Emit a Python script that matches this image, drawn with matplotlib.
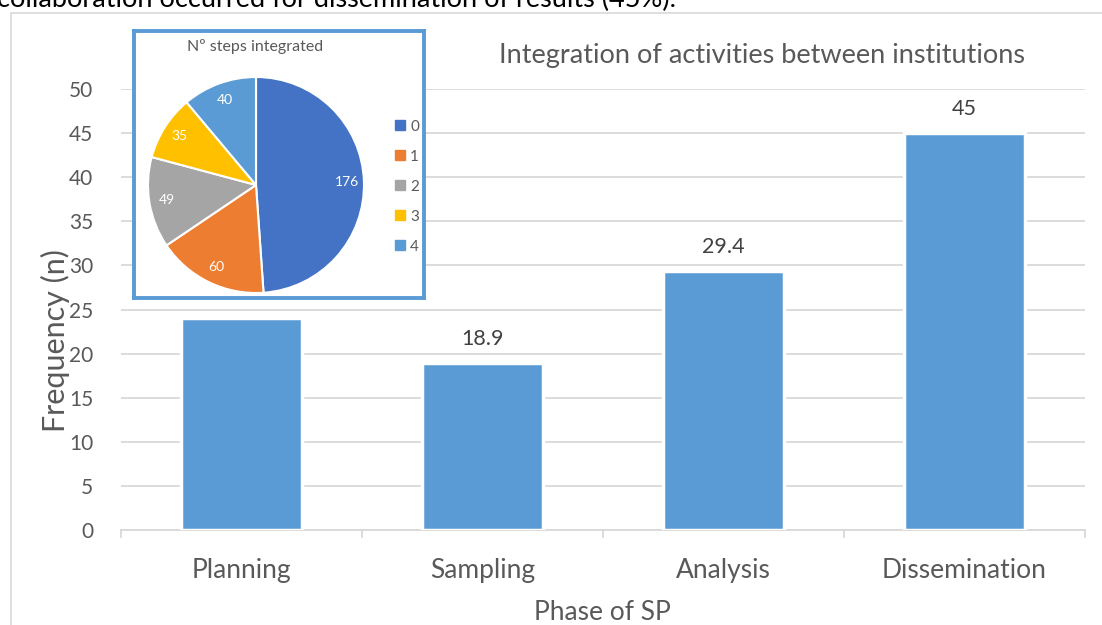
import matplotlib
matplotlib.use("Agg")
import matplotlib.pyplot as plt
from matplotlib.patches import Rectangle
from matplotlib.lines import Line2D

plt.rcParams['font.family'] = ['Lato', 'DejaVu Sans']

# ---- data ----
phases = ["Planning", "Sampling", "Analysis", "Dissemination"]
freq = [24.0, 18.9, 29.4, 45.0]
bar_labels = [None, "18.9", "29.4", "45"]   # Planning label hidden behind inset
yticks = [0, 5, 10, 15, 20, 25, 30, 35, 40, 45, 50]

steps = ["0", "1", "2", "3", "4"]
step_counts = [176, 60, 49, 35, 40]

title = "Integration of activities between institutions"
inset_title = "Nº steps integrated"
top_text = "collaboration occurred for dissemination of results (45%)."

W, H = 1102, 625
fig = plt.figure(figsize=(W / 100, H / 100), dpi=100)

def px(x0, y0, x1, y1):
    return [x0 / W, 1 - y1 / H, (x1 - x0) / W, (y1 - y0) / H]

grey_txt = "#595959"
grid_c = "#D9D9D9"
bar_c = "#5B9BD5"

# chart border (partially visible)
fig.add_artist(Rectangle((11 / W, -0.1), 2, 1 - 13 / H + 0.1, transform=fig.transFigure,
                         fill=False, edgecolor="#D9D9D9", linewidth=1.2))
fig.text(-0.003, 1 - 7 / H, top_text, fontsize=19.5, color="black", va="baseline", ha="left")

ax = fig.add_axes(px(121, 89, 1085, 530))
x = list(range(len(phases)))
bars = ax.bar(x, freq, width=0.5, color=bar_c, edgecolor="white", linewidth=2.5, zorder=3)
ax.set_xlim(-0.5, len(phases) - 0.5)
ax.set_ylim(0, 50)
ax.set_yticks(yticks)
ax.set_yticklabels([str(v) for v in yticks], fontsize=15, color=grey_txt)
ax.tick_params(axis="y", length=0, pad=20)
ax.set_xticks(x)
ax.set_xticklabels(phases, fontsize=19, color=grey_txt)
ax.tick_params(axis="x", length=0, pad=20)
for b in [i - 0.5 for i in range(len(phases) + 1)]:
    ax.plot([b, b], [0, -0.016], transform=ax.get_xaxis_transform(), color=grid_c,
            linewidth=1.3, clip_on=False)
ax.grid(axis="y", color=grid_c, linewidth=1.3, zorder=0)
for s in ["top", "right", "left"]:
    ax.spines[s].set_visible(False)
ax.spines["bottom"].set_color(grid_c)
ax.spines["bottom"].set_linewidth(1.3)
ax.set_axisbelow(True)
for xi, v, lab in zip(x, freq, bar_labels):
    if lab:
        ax.text(xi, v + 1.6, lab, ha="center", va="bottom", fontsize=15.5, color="#404040")
fig.text(55 / W, 1 - 341 / H, "Frequency (n)", fontsize=22, color=grey_txt,
         rotation=90, ha="center", va="center")
fig.text(602 / W, 1 - 620 / H, "Phase of SP", fontsize=19, color=grey_txt,
         ha="center", va="baseline")
fig.text(762 / W, 1 - 55 / H, title, fontsize=19.5, color=grey_txt, ha="center", va="center")

# inset box
box = fig.add_axes(px(134, 31, 424, 298))
box.set_facecolor("white")
box.set_xticks([]); box.set_yticks([])
for s in box.spines.values():
    s.set_color("#5B9BD5"); s.set_linewidth(2.8)
fig.text(255 / W, 1 - 47 / H, inset_title, ha="center", va="center",
         fontsize=11.5, color=grey_txt)

pie_colors = ["#4472C4", "#ED7D31", "#A5A5A5", "#FFC000", "#5B9BD5"]
pax = fig.add_axes(px(148, 77, 364, 293))
wedges, texts = pax.pie(step_counts, colors=pie_colors, startangle=90, counterclock=False,
                        labels=[str(c) for c in step_counts], labeldistance=0.84,
                        wedgeprops=dict(edgecolor="white", linewidth=1.5),
                        textprops=dict(color="white", fontsize=10))
for t in texts:
    t.set_ha("center"); t.set_va("center")
pax.set_xlim(-1, 1); pax.set_ylim(-1, 1)
pax.set_aspect("equal")

handles = [Line2D([0], [0], marker="s", linestyle="", markersize=7, markerfacecolor=c,
                  markeredgecolor=c) for c in pie_colors]
fig.legend(handles, steps, loc="upper left", bbox_to_anchor=(388 / W, 1 - 112 / H),
           frameon=False, fontsize=11, labelcolor=grey_txt, handlelength=0.6,
           handletextpad=0.35, labelspacing=1.05, borderpad=0)

fig.savefig("out.png", dpi=100)
